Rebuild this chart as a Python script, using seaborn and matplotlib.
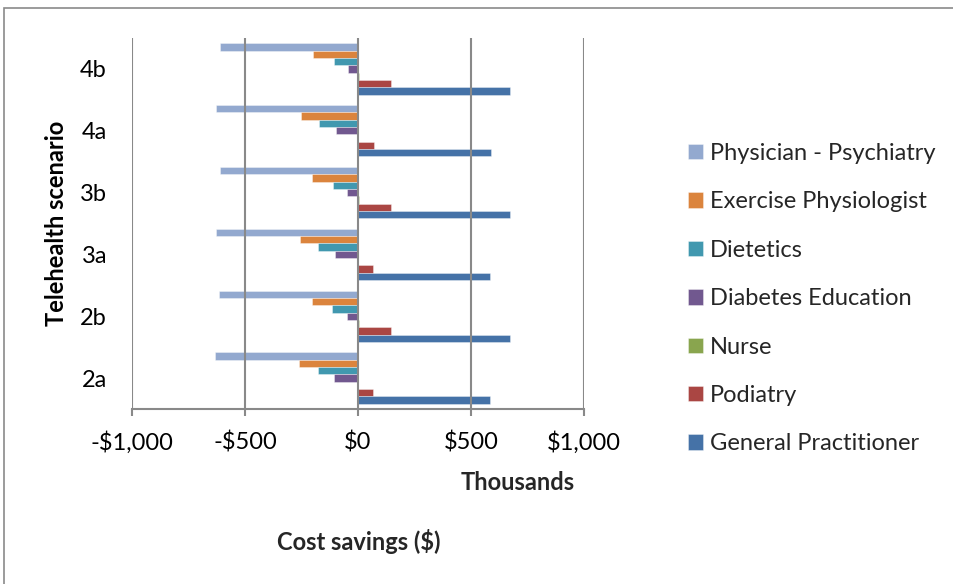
import matplotlib
matplotlib.use("Agg")
import matplotlib.pyplot as plt
from matplotlib.patches import Rectangle
from matplotlib.ticker import FuncFormatter
import pandas as pd
import seaborn as sns

# Telehealth scenarios, top to bottom as drawn
scenarios = ["4b", "4a", "3b", "3a", "2b", "2a"]

# Disciplines, in legend order (top bar of each group first)
disciplines = [
    "Physician - Psychiatry",
    "Exercise Physiologist",
    "Dietetics",
    "Diabetes Education",
    "Nurse",
    "Podiatry",
    "General Practitioner",
]

# Cost savings in $ thousands, per scenario (same order as `scenarios`)
psychiatry = [-612, -627, -610, -630, -614, -632]
exercise_phys = [-200, -251, -202, -255, -204, -259]
dietetics = [-108, -173, -110, -176, -113, -179]
diabetes_ed = [-43, -96, -48, -100, -50, -104]
nurse = [3, -3, 3, -3, 3, -3]
podiatry = [148, 72, 146, 68, 145, 66]
general_pract = [673, 588, 671, 586, 671, 584]

series = [psychiatry, exercise_phys, dietetics, diabetes_ed, nurse, podiatry, general_pract]

colors = ["#93A9CF", "#DB843D", "#4198AF", "#71588F", "#89A54E", "#AA4643", "#4572A7"]

rows = []
for name, vals in zip(disciplines, series):
    for sc, v in zip(scenarios, vals):
        rows.append({"scenario": sc, "discipline": name, "savings": v})
df = pd.DataFrame(rows)

sns.set_theme(style="white")
plt.rcParams["font.family"] = ["Lato", "DejaVu Sans"]

FS = 17

fig = plt.figure(figsize=(9.54, 5.84), dpi=100)
ax = fig.add_axes([132 / 954, 1 - 409 / 584, (584 - 132) / 954, (409 - 38) / 584])

sns.barplot(
    data=df, y="scenario", x="savings", hue="discipline",
    order=scenarios, hue_order=disciplines, palette=colors,
    orient="h", width=0.83, errorbar=None, ax=ax,
    edgecolor=(1, 1, 1, 0.5), linewidth=0.5, saturation=1,
)

grid_col = "#898989"
ax.set_xlim(-1000, 1000)
ax.set_ylim(5.5, -0.5)
ax.set_xticks([-1000, -500, 0, 500, 1000])
ax.xaxis.set_major_formatter(FuncFormatter(
    lambda v, p: ("-" if v < 0 else "") + "${:,.0f}".format(abs(v))))
ax.set_axisbelow(False)
ax.grid(axis="x", color=grid_col, linewidth=1.5)
ax.grid(axis="y", visible=False)

for s in ["top", "right", "left"]:
    ax.spines[s].set_visible(False)
ax.spines["bottom"].set_color(grid_col)
ax.spines["bottom"].set_linewidth(1.5)

ax.tick_params(axis="x", which="major", bottom=True, length=5, width=1.5,
               color=grid_col, pad=11, labelsize=FS, labelcolor="black")
ax.tick_params(axis="y", left=False, length=0, pad=18, labelsize=FS,
               labelcolor="black")

ax.set_xlabel("")
ax.set_ylabel("Telehealth scenario", fontsize=FS, fontweight="bold", color="black")
ax.yaxis.set_label_coords((68 - 132) / 452, 0.5)

fig.text(518 / 954, 1 - 483 / 584, "Thousands", ha="center", va="center",
         fontsize=FS, fontweight="bold")
fig.text(359 / 954, 1 - 542 / 584, "Cost savings ($)", ha="center", va="center",
         fontsize=FS, fontweight="bold")

handles, labels = ax.get_legend_handles_labels()
ax.legend_.remove()
fig.legend(handles, labels, loc="upper left",
           bbox_to_anchor=(688 / 954, 1 - 143 / 584),
           frameon=False, fontsize=FS, handlelength=0.62, handleheight=0.62,
           handletextpad=0.3, labelspacing=1.16, borderpad=0, borderaxespad=0)

# outer chart border
fig.patches.append(Rectangle((4 / 954, -0.05), 1.0, 1 - 8 / 584 + 0.05,
                             transform=fig.transFigure, fill=False,
                             edgecolor="#8a8a8a", linewidth=1.2))

fig.savefig("out.png", dpi=100)
